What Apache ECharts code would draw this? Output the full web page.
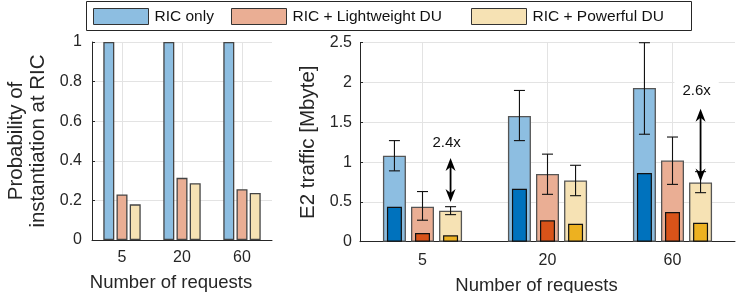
<!DOCTYPE html>
<html>
<head>
<meta charset="utf-8">
<script src="https://cdn.jsdelivr.net/npm/echarts@6/dist/echarts.min.js"></script>
<style>
html,body{margin:0;padding:0;background:#fff;}
#c{width:747px;height:293px;}
</style>
</head>
<body>
<div id="c"></div>
<script>
// ---------- data ----------
const categories = ['5', '20', '60'];
const seriesNames = ['RIC only', 'RIC + Lightweight DU', 'RIC + Powerful DU'];

// left: probability of instantiation at RIC
const probRIC = [1, 1, 1];
const probLight = [0.23, 0.314, 0.256];
const probPower = [0.18, 0.287, 0.237];

// right: E2 traffic [Mbyte] (total mean)
const totRIC = [1.08, 1.58, 1.93];
const totLight = [0.44, 0.85, 1.02];
const totPower = [0.39, 0.77, 0.745];
// inner (darker) part
const innerRIC = [0.44, 0.665, 0.863];
const innerLight = [0.11, 0.268, 0.373];
const innerPower = [0.08, 0.226, 0.239];
// error bars
const errLowRIC = [0.89, 1.27, 1.35];
const errHighRIC = [1.27, 1.90, 2.50];
const errLowLight = [0.27, 0.595, 0.72];
const errHighLight = [0.63, 1.10, 1.315];
const errLowPower = [0.34, 0.578, 0.616];
const errHighPower = [0.44, 0.96, 0.88];

// annotations (ratio arrows above "RIC + Powerful DU")
const annotCategory = [0, 2];
const annotLabels = ['2.4x', '2.6x'];
const annotArrowTop = [1.05, 1.67];
const annotArrowBottom = [0.50, 0.755];
const annotLabelY = [1.24, 1.90];

// tick labels
const probTicks = [0, 0.2, 0.4, 0.6, 0.8, 1];
const trafficTicks = [0, 0.5, 1, 1.5, 2, 2.5];

// ---------- style ----------
const FONT = "'Liberation Sans', Arial, Helvetica, sans-serif";
const TXT = '#262626';
const lightColors = ['#8dbee1', '#eaae94', '#f6e2b4'];
const darkColors = ['#0072bd', '#d95319', '#edb120'];
const GRIDC = '#e3e3e3';
const OUTER_W = 23, OUTER_GAP = 0.22;
const SPACING = OUTER_W * (1 + OUTER_GAP);

const chart = echarts.init(document.getElementById('c'), null, {renderer: 'canvas'});

function yAxisCommon(extra) {
  return Object.assign({
    type: 'value',
    axisLine: {show: true, lineStyle: {color: TXT, width: 1}},
    axisTick: {show: true, inside: true, length: 3, lineStyle: {color: TXT}},
    axisLabel: {color: TXT, fontFamily: FONT, fontSize: 16},
    splitLine: {show: true, lineStyle: {color: GRIDC, width: 1}},
    nameLocation: 'middle',
    nameRotate: 90,
    nameTextStyle: {color: TXT, fontFamily: FONT, fontSize: 20.5, lineHeight: 22}
  }, extra);
}
function xAxisCommon(extra) {
  return Object.assign({
    type: 'category',
    data: categories,
    axisLine: {show: true, lineStyle: {color: TXT, width: 1}},
    axisTick: {show: false},
    axisLabel: {color: TXT, fontFamily: FONT, fontSize: 16},
    splitLine: {show: true, alignWithLabel: true, lineStyle: {color: GRIDC, width: 1}},
    name: 'Number of requests',
    nameLocation: 'middle',
    nameTextStyle: {color: TXT, fontFamily: FONT, fontSize: 18.5, padding: [0, 22, 0, 0]}
  }, extra);
}

function errData() {
  const lows = [errLowRIC, errLowLight, errLowPower];
  const highs = [errHighRIC, errHighLight, errHighPower];
  const out = [];
  for (let k = 0; k < 3; k++) {
    for (let i = 0; i < categories.length; i++) {
      out.push([i, lows[k][i], highs[k][i], k]);
    }
  }
  return out;
}
function renderErr(params, api) {
  const c = api.value(0), lo = api.value(1), hi = api.value(2), k = api.value(3);
  const pLo = api.coord([c, lo]);
  const pHi = api.coord([c, hi]);
  const x = pLo[0] + (k - 1) * SPACING;
  const hw = 5.5;
  const st = {stroke: '#111', lineWidth: 1.1};
  return {
    type: 'group',
    children: [
      {type: 'line', shape: {x1: x, y1: pHi[1], x2: x, y2: pLo[1]}, style: st},
      {type: 'line', shape: {x1: x - hw, y1: pHi[1], x2: x + hw, y2: pHi[1]}, style: st},
      {type: 'line', shape: {x1: x - hw, y1: pLo[1], x2: x + hw, y2: pLo[1]}, style: st}
    ]
  };
}

function annotData() {
  return annotCategory.map((c, i) => [c, annotArrowTop[i], annotArrowBottom[i], annotLabelY[i], i]);
}
function renderArrow(params, api) {
  const c = api.value(0), top = api.value(1), bot = api.value(2), ly = api.value(3), idx = api.value(4);
  const pT = api.coord([c, top]);
  const pB = api.coord([c, bot]);
  const pL = api.coord([c, ly]);
  const x = pT[0] + SPACING;
  const hl = 13, hw = 5;
  const children = [
    {type: 'line', shape: {x1: x, y1: pT[1] + 6, x2: x, y2: pB[1] - 6}, style: {stroke: '#000', lineWidth: 1.8}},
    {type: 'polygon', shape: {points: [[x, pT[1]], [x - hw, pT[1] + hl], [x, pT[1] + hl - 4], [x + hw, pT[1] + hl]]}, style: {fill: '#000'}},
    {type: 'polygon', shape: {points: [[x, pB[1]], [x - hw, pB[1] - hl], [x, pB[1] - hl + 4], [x + hw, pB[1] - hl]]}, style: {fill: '#000'}},
    {type: 'text', x: x - 4, y: pL[1], style: {
      text: annotLabels[idx], fill: '#111', font: '15px ' + FONT,
      align: 'center', verticalAlign: 'middle',
      backgroundColor: idx === 1 ? '#fff' : 'transparent', padding: idx === 1 ? [6, 8] : 0
    }}
  ];
  return {type: 'group', children: children};
}

const leftVals = [probRIC, probLight, probPower];
const totVals = [totRIC, totLight, totPower];
const innerVals = [innerRIC, innerLight, innerPower];

const series = [];
for (let k = 0; k < 3; k++) {
  series.push({
    name: seriesNames[k], type: 'bar', xAxisIndex: 0, yAxisIndex: 0,
    data: leftVals[k], barWidth: 11, barGap: '20%',
    itemStyle: {color: lightColors[k], borderColor: '#444', borderWidth: 1.3},
    z: 2
  });
}
for (let k = 0; k < 3; k++) {
  series.push({
    name: seriesNames[k], type: 'bar', xAxisIndex: 1, yAxisIndex: 1,
    data: totVals[k], barWidth: OUTER_W, barGap: (OUTER_GAP * 100) + '%',
    itemStyle: {color: lightColors[k], borderColor: '#555', borderWidth: 1.3},
    z: 2
  });
}
for (let k = 0; k < 3; k++) {
  series.push({
    name: seriesNames[k] + ' (E2 only)', type: 'bar', xAxisIndex: 2, yAxisIndex: 1,
    data: innerVals[k], barWidth: 15, barGap: ((SPACING - 15) / 15 * 100) + '%',
    itemStyle: {color: darkColors[k], borderColor: '#111', borderWidth: 1.2},
    z: 3
  });
}
series.push({
  type: 'custom', xAxisIndex: 1, yAxisIndex: 1, renderItem: renderErr,
  data: errData(), encode: {x: 0, y: [1, 2]}, z: 5, silent: true
});
series.push({
  type: 'custom', xAxisIndex: 1, yAxisIndex: 1, renderItem: renderArrow,
  data: annotData(), encode: {x: 0, y: [1, 2, 3]}, z: 6, silent: true, clip: false
});

function legendItem(k, left) {
  return {
    data: [seriesNames[k]], left: left, top: 8, padding: 0,
    itemWidth: 55, itemHeight: 16, itemGap: 0,
    icon: 'rect', selectedMode: false,
    itemStyle: {borderColor: '#333', borderWidth: 1},
    textStyle: {color: '#111', fontFamily: FONT, fontSize: 15.5, padding: [0, 0, 0, 1]}
  };
}

const option = {
  animation: false,
  backgroundColor: '#fff',
  graphic: [{
    type: 'rect', left: 86, top: 1, shape: {width: 605, height: 29},
    style: {fill: '#fff', stroke: '#262626', lineWidth: 1}, z: -1
  }],
  legend: [legendItem(0, 93), legendItem(1, 231), legendItem(2, 471)],
  grid: [
    {left: 92, top: 42, width: 180, height: 198, containLabel: false, outerBoundsMode: 'none'},
    {left: 360, top: 42.7, width: 375, height: 199, containLabel: false, outerBoundsMode: 'none'}
  ],
  xAxis: [
    xAxisCommon({gridIndex: 0, nameGap: 33, axisLabel: {color: TXT, fontFamily: FONT, fontSize: 16, margin: 10}}),
    xAxisCommon({gridIndex: 1, nameGap: 35, axisLabel: {color: TXT, fontFamily: FONT, fontSize: 16, margin: 11}}),
    {type: 'category', gridIndex: 1, data: categories, show: false}
  ],
  yAxis: [
    yAxisCommon({gridIndex: 0, min: probTicks[0], max: probTicks[probTicks.length - 1], interval: 0.2,
      name: 'Probability of\ninstantiation at RIC', nameGap: 43,
      axisLabel: {color: TXT, fontFamily: FONT, fontSize: 16, margin: 10}}),
    yAxisCommon({gridIndex: 1, min: trafficTicks[0], max: trafficTicks[trafficTicks.length - 1], interval: 0.5,
      name: 'E2 traffic [Mbyte]', nameGap: 40,
      axisLabel: {color: TXT, fontFamily: FONT, fontSize: 16, margin: 8}})
  ],
  series: series
};
chart.setOption(option);
</script>
</body>
</html>
